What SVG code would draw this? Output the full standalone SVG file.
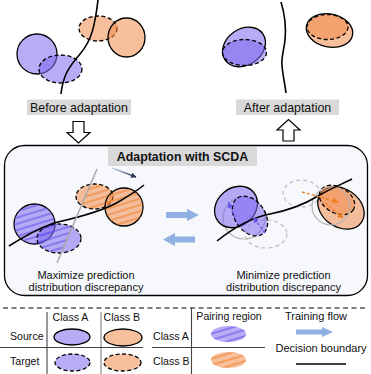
<svg xmlns="http://www.w3.org/2000/svg" width="371" height="374" viewBox="0 0 371 374">
<defs>
<style>
text{font-family:"Liberation Sans",Arial,sans-serif;fill:#111}
.lbl{font-size:12.4px}
.ttl{font-size:12.4px;font-weight:bold}
.cap{font-size:11px}
.leg{font-size:10.6px}
.fA{fill:#7b68ee;fill-opacity:.55}
.fB{fill:#f08a4b;fill-opacity:.55}
.sol{stroke:#000;stroke-width:1.3}
.dsh{stroke:#000;stroke-width:1.3;stroke-dasharray:4,2.5}
.hA{fill:url(#hatchA)}
.hB{fill:url(#hatchB)}
.bd{fill:none;stroke:#000;stroke-width:1.6}
.gs{fill:none;stroke:#b3b3b3;stroke-width:1.2}
.gd{fill:none;stroke:#bdbdbd;stroke-width:1.2;stroke-dasharray:4,3}
.lbox{fill:#d9d9d9}
.flow{fill:#8fb0e3}
.hol{fill:#fff;stroke:#000;stroke-width:1.2}
.ln{stroke:#444;stroke-width:1.1}
</style>
<pattern id="hatchA" patternUnits="userSpaceOnUse" width="12" height="6" patternTransform="rotate(-17)">
<line x1="0" y1="3" x2="12" y2="3" stroke="#5e4ae6" stroke-width="1"/>
</pattern>
<pattern id="hatchB" patternUnits="userSpaceOnUse" width="12" height="6" patternTransform="rotate(-17)">
<line x1="0" y1="3" x2="12" y2="3" stroke="#ef7a1f" stroke-width="1"/>
</pattern>
<clipPath id="leftOfGray"><polygon points="0,140 109.3,140 41.3,300 0,300"/></clipPath>
<clipPath id="rightOfGray"><polygon points="109.3,140 371,140 371,300 41.3,300"/></clipPath>
<linearGradient id="gArr" gradientUnits="userSpaceOnUse" x1="112" y1="168" x2="136" y2="177">
<stop offset="0" stop-color="#cfdcf2"/><stop offset="1" stop-color="#2b3450"/>
</linearGradient>
<marker id="mDark" viewBox="0 0 10 10" refX="9" refY="5" markerWidth="4" markerHeight="4" orient="auto"><path d="M0,0L10,5L0,10z" fill="#2b3450"/></marker>
<marker id="mBlue" viewBox="0 0 10 10" refX="9" refY="5" markerWidth="4.5" markerHeight="4.5" orient="auto"><path d="M0,0L10,5L0,10z" fill="#6a58e6"/></marker>
<marker id="mOr" viewBox="0 0 10 10" refX="9" refY="5" markerWidth="4.5" markerHeight="4.5" orient="auto"><path d="M0,0L10,5L0,10z" fill="#ee7d1c"/></marker>
</defs>
<rect width="371" height="374" fill="#fff"/>

<!-- Before adaptation -->
<g id="before">
<ellipse class="fA sol" cx="37" cy="54" rx="20" ry="20"/>
<ellipse class="fA dsh" cx="60.5" cy="69" rx="21.5" ry="14"/>
<ellipse class="fB dsh" cx="98" cy="28.5" rx="19" ry="12.5"/>
<ellipse class="fB sol" cx="126.5" cy="37.5" rx="18.5" ry="19.5"/>
<path class="bd" d="M98,0 C95,25 92,40 80,54 C68,68 63,76 61,94"/>
<rect class="lbox" x="27" y="99.5" width="104" height="15.5"/>
<text class="lbl" x="79" y="111.5" text-anchor="middle">Before adaptation</text>
</g>

<!-- After adaptation -->
<g id="after">
<ellipse class="fA sol" cx="244" cy="47" rx="23" ry="18" transform="rotate(-35 244 47)"/>
<ellipse class="fA dsh" cx="244.5" cy="52.5" rx="22" ry="13"/>
<ellipse class="fB sol" cx="329.5" cy="30.5" rx="23.5" ry="16.5" transform="rotate(12 329.5 30.5)"/>
<ellipse class="fB dsh" cx="327.5" cy="27" rx="20.5" ry="12.5"/>
<path class="bd" d="M281,2 C285,15 286,30 285,40 C284,50 281,58 282,66 C283,76 285,85 286,93"/>
<rect class="lbox" x="236" y="99.5" width="103" height="15.5"/>
<text class="lbl" x="287.5" y="111.5" text-anchor="middle">After adaptation</text>
</g>

<!-- Adaptation panel -->
<g id="panel">
<rect x="4.5" y="145.5" width="363" height="150" rx="20" ry="20" fill="#f6f8fc" stroke="#000" stroke-width="1.3"/>
<rect class="lbox" x="108" y="147" width="149" height="19"/>
<text class="ttl" x="182.5" y="161" text-anchor="middle">Adaptation with SCDA</text>
</g>

<g id="maximize">
<ellipse class="fA sol" cx="34.5" cy="224" rx="20.5" ry="20"/>
<ellipse class="hA" cx="34.5" cy="224" rx="20.5" ry="20"/>
<ellipse class="fA dsh" cx="59" cy="238.5" rx="22" ry="14.5"/>
<ellipse class="hA" cx="59" cy="238.5" rx="22" ry="14.5" clip-path="url(#leftOfGray)"/>
<ellipse class="fB dsh" cx="94.5" cy="196.5" rx="18.5" ry="12.5"/>
<ellipse class="hB" cx="94.5" cy="196.5" rx="18.5" ry="12.5" clip-path="url(#rightOfGray)"/>
<ellipse class="fB sol" cx="124" cy="207" rx="19" ry="19"/>
<ellipse class="hB" cx="124" cy="207" rx="19" ry="19"/>
<path class="bd" d="M9,246 C25,236 42,226 58,222 C80,217 105,210 120,201 C130,195 138,190 144,185"/>
<line x1="97" y1="169" x2="57" y2="263" stroke="#aaaaaa" stroke-width="1.5"/>
<line x1="112" y1="168" x2="136" y2="177" stroke="url(#gArr)" stroke-width="1.4" marker-end="url(#mDark)"/>
<text class="cap" x="86" y="279" text-anchor="middle">Maximize prediction</text>
<text class="cap" x="86" y="291" text-anchor="middle">distribution discrepancy</text>
</g>

<g id="minimize">
<ellipse class="gs" cx="244" cy="218" rx="21" ry="21"/>
<ellipse class="gd" cx="266" cy="234" rx="21" ry="14"/>
<ellipse class="fA sol" cx="236" cy="207" rx="23" ry="19" transform="rotate(-40 236 207)"/>
<ellipse class="fA dsh" cx="250" cy="216" rx="22" ry="15" transform="rotate(55 250 216)"/>
<ellipse class="gd" cx="301.5" cy="193.5" rx="18.5" ry="13.5"/>
<ellipse class="fB sol" cx="341" cy="208" rx="25" ry="19" transform="rotate(35 341 208)"/>
<ellipse class="fB dsh" cx="337" cy="200" rx="19" ry="13" transform="rotate(30 337 200)"/>
<ellipse class="gs" cx="331" cy="206" rx="19" ry="19"/>
<path class="bd" d="M217,241 C232,229 250,218 270,214 C290,210 305,204 318,196 C330,189 342,184 352,179"/>
<text class="cap" x="283.5" y="279" text-anchor="middle">Minimize prediction</text>
<text class="cap" x="283.5" y="291" text-anchor="middle">distribution discrepancy</text>
</g>

<g id="connectors">
<polygon class="hol" points="73,121.5 84,121.5 84,132.5 90,132.5 78.5,143 67,132.5 73,132.5"/>
<polygon class="hol" points="283,141 294,141 294,130 300,130 288.5,119.5 277,130 283,130"/>
<polygon class="flow" points="166,212 187,212 187,209 199,215 187,221 187,218 166,218"/>
<polygon class="flow" points="195,236.5 175,236.5 175,233 163,239.5 175,246 175,242.5 195,242.5"/>
<line x1="235" y1="218" x2="228.5" y2="202.5" stroke="#6a58e6" stroke-width="1.3" stroke-dasharray="3,2" marker-end="url(#mBlue)"/>
<line x1="265" y1="233" x2="253.5" y2="217.5" stroke="#6a58e6" stroke-width="1.3" stroke-dasharray="3,2" marker-end="url(#mBlue)"/>
<line x1="302" y1="192" x2="338" y2="202" stroke="#ee7d1c" stroke-width="1.3" stroke-dasharray="3,2" marker-end="url(#mOr)"/>
<line x1="325" y1="203" x2="343" y2="218" stroke="#ee7d1c" stroke-width="1.3" stroke-dasharray="3,2" marker-end="url(#mOr)"/>
</g>

<!-- Legend -->
<g id="legend">
<line x1="3" y1="308" x2="368" y2="308" stroke="#000" stroke-width="1.2" stroke-dasharray="5,3.5"/>
<line class="ln" x1="47" y1="312" x2="47" y2="374"/>
<line x1="101" y1="312" x2="101" y2="374" stroke="#777" stroke-width="1"/>
<line class="ln" x1="0" y1="347.5" x2="143" y2="347.5"/>
<line class="ln" x1="152" y1="347.5" x2="265" y2="347.5"/>
<line class="ln" x1="191.5" y1="308" x2="191.5" y2="374"/>
<text class="leg" x="52.5" y="321">Class A</text>
<text class="leg" x="103.5" y="321">Class B</text>
<text class="leg" x="10" y="340">Source</text>
<text class="leg" x="10" y="365">Target</text>
<ellipse class="fA sol" cx="72" cy="337" rx="18" ry="8"/>
<ellipse class="fB sol" cx="123" cy="337.5" rx="19" ry="8.5"/>
<ellipse class="fA dsh" cx="72.5" cy="362.5" rx="17.5" ry="8.5"/>
<ellipse class="fB dsh" cx="122.5" cy="362.5" rx="18.5" ry="8.5"/>
<text class="leg" x="153" y="340">Class A</text>
<text class="leg" x="153" y="365">Class B</text>
<text class="leg" x="229" y="320" text-anchor="middle">Pairing region</text>
<ellipse class="fA" cx="228.5" cy="334" rx="17.5" ry="8"/>
<ellipse class="hA" cx="228.5" cy="334" rx="17.5" ry="8"/>
<ellipse class="fB" cx="228.5" cy="360" rx="17.5" ry="8"/>
<ellipse class="hB" cx="228.5" cy="360" rx="17.5" ry="8"/>
<text class="cap" x="316" y="320" text-anchor="middle">Training flow</text>
<polygon class="flow" points="296,329.5 322,329.5 322,327 333,332 322,337 322,334.5 296,334.5"/>
<text class="cap" x="321" y="352" text-anchor="middle">Decision boundary</text>
<line x1="296" y1="364" x2="346" y2="364" stroke="#000" stroke-width="1.6"/>
</g>
</svg>
